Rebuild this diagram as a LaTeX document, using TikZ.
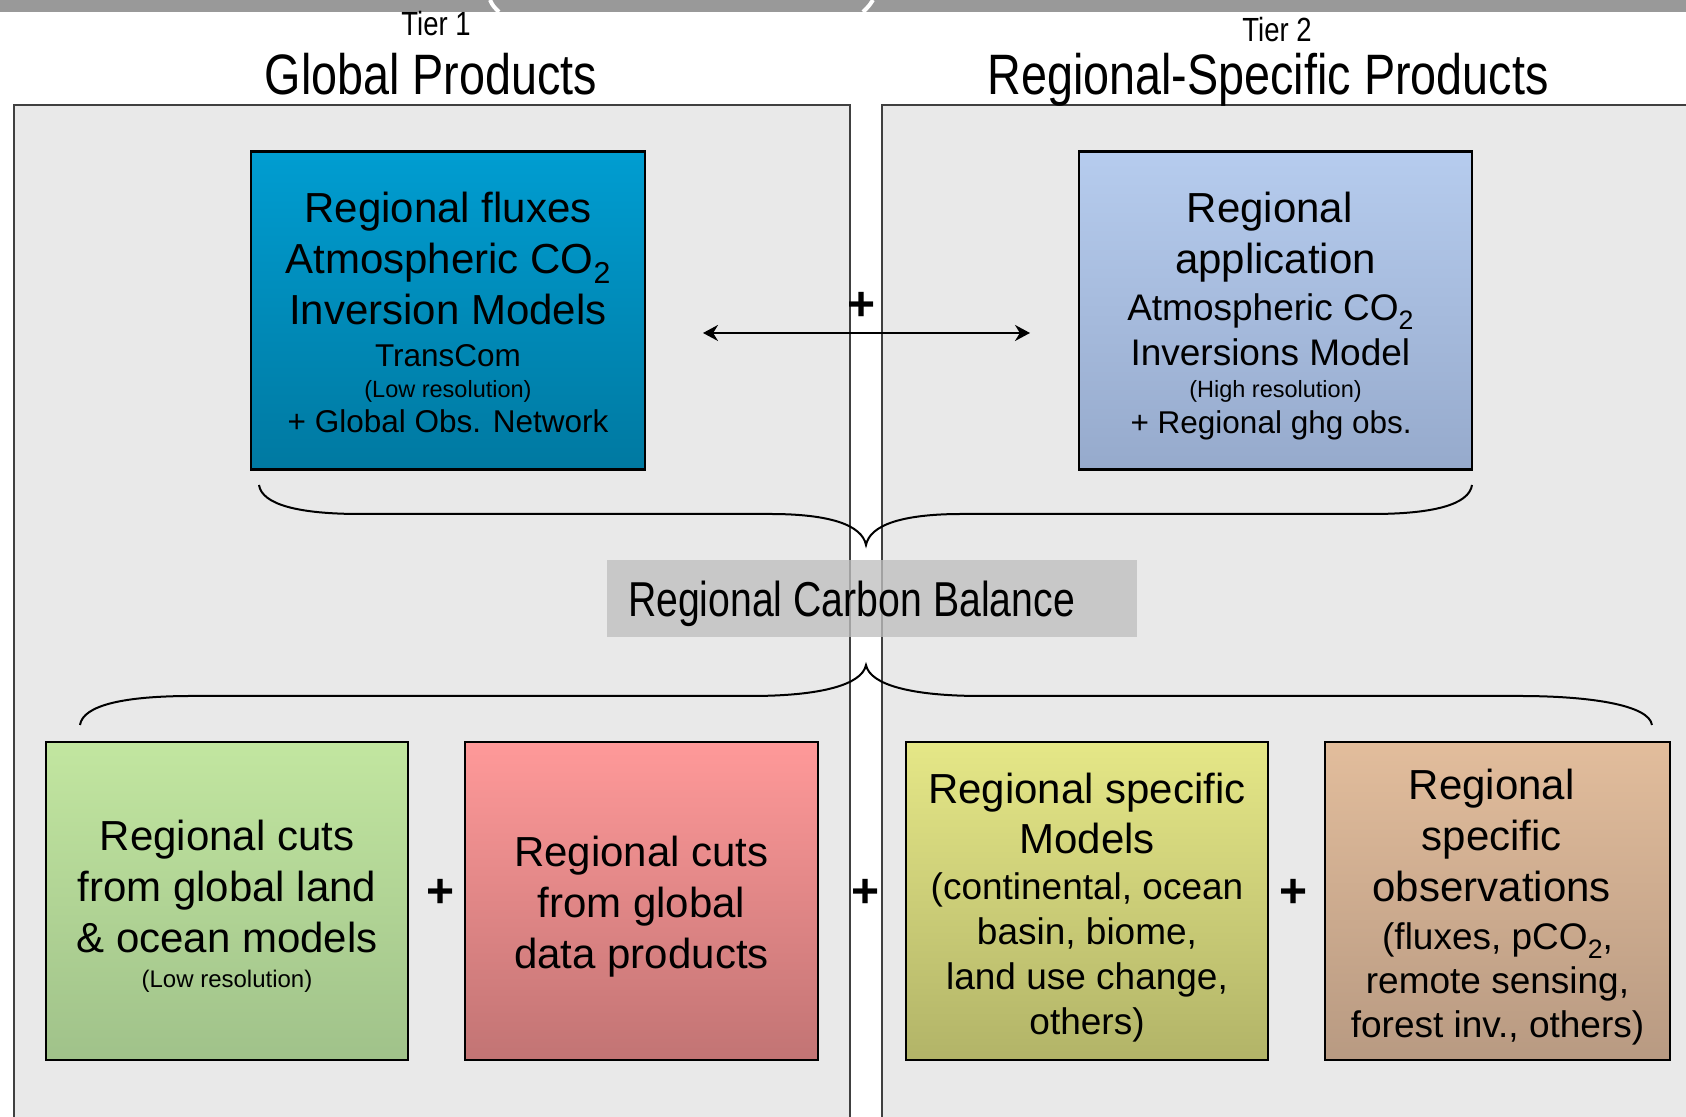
\documentclass[tikz,border=0pt]{standalone}
\usepackage{fontspec}
\setmainfont{Liberation Sans}
\newfontfamily\narrowfont{Liberation Sans}[FakeStretch=0.82]
\newfontfamily\balancefont{Liberation Sans}[FakeStretch=0.8]
\usetikzlibrary{arrows.meta}

\definecolor{panelgray}{RGB}{233,233,233}
\definecolor{bargray}{RGB}{153,153,153}
\definecolor{bluetop}{RGB}{0,157,209}
\definecolor{bluebot}{RGB}{0,121,161}
\definecolor{skytop}{RGB}{182,204,238}
\definecolor{skybot}{RGB}{150,170,204}
\definecolor{greentop}{RGB}{194,230,160}
\definecolor{greenbot}{RGB}{160,194,138}
\definecolor{redtop}{RGB}{255,153,153}
\definecolor{redbot}{RGB}{194,116,116}
\definecolor{yellowtop}{RGB}{229,231,135}
\definecolor{yellowbot}{RGB}{178,180,104}
\definecolor{tantop}{RGB}{226,189,156}
\definecolor{tanbot}{RGB}{184,154,130}

\newcommand{\bigtext}{\fontsize{21}{25.5}\selectfont}
\newcommand{\midtext}{\fontsize{18.5}{22}\selectfont}
\newcommand{\smalltext}{\fontsize{15.75}{19}\selectfont}
\newcommand{\tinytext}{\fontsize{11.75}{14}\selectfont}
% lowered two for CO2, and the trailing blank some lines carry
\newcommand{\subtwo}{\raisebox{-0.24em}{\scalebox{0.72}{2}}}
\newcommand{\trail}{\kern0.278em}

\begin{document}
\begin{tikzpicture}[x=0.5pt, y=0.5pt,
  prodbox/.style={draw=black, line width=1.3pt, minimum height=159pt, inner sep=0pt},
  boxtext/.style={align=center, inner sep=0pt},
  panelbox/.style={fill=panelgray, draw=black!75, line width=1pt},
  bracepath/.style={line width=1pt},
  plussign/.style={font=\bfseries\fontsize{24}{24}\selectfont, inner sep=0pt},
  tier/.style={anchor=base, font=\narrowfont\fontsize{16.75}{20}\selectfont},
  heading/.style={anchor=base, font=\narrowfont\fontsize{28.5}{34}\selectfont}]

\useasboundingbox (0,0) rectangle (1686,1117);
\fill[white] (0,0) rectangle (1686,1117);

% bar along the top
\fill[bargray] (0,1105) rectangle (1686,1117);
\draw[white, line width=2pt] (490,1117) .. controls (493,1111) .. (499,1105);
\draw[white, line width=2pt] (873,1117) .. controls (869,1111) .. (863,1105);

\draw[panelbox] (14,-5) rectangle (850,1012);
\draw[panelbox] (882,-5) rectangle (1695,1012);

\node[tier] (tier1) at (436,1081) {Tier 1};
\node[heading] (global) at (431,1022) {Global Products};
\node[tier] (tier2) at (1277,1075) {Tier 2};
\node[heading] (regional) at (1268,1022) {Regional-Specific Products};

% inversion models
\node[prodbox, minimum width=197pt, top color=bluetop, bottom color=bluebot] (inversion) at (448,806.5) {};
\node[boxtext, font=\bigtext] (inversiontext) at ([yshift=-1pt]inversion.center)
  {Regional fluxes\\ Atmospheric CO\subtwo\\ Inversion Models\\[-4.5pt]
   {\smalltext TransCom}\\[-10pt] {\tinytext (Low resolution)}\\[-8pt] {\smalltext + Global Obs. Network}};
\node[prodbox, minimum width=196.5pt, top color=skytop, bottom color=skybot] (application) at (1275.5,806.5) {};
\node[boxtext, font=\bigtext] (applicationtext) at ([yshift=-3pt]application.center)
  {Regional\trail\\ application\\[-2pt] {\midtext Atmospheric CO\subtwo\trail}\\[-3pt]
   {\midtext Inversions Model\trail}\\[-9.5pt] {\tinytext (High resolution)}\\[-7.5pt] {\smalltext + Regional ghg obs.\trail}};

\coordinate (arrowL) at (703,784);
\coordinate (arrowR) at (1030,784);
\draw[{Stealth[length=7.5pt,width=8pt]}-{Stealth[length=7.5pt,width=8pt]}, line width=1pt] (arrowL) -- (arrowR);
\node[plussign] (plustop) at (862,811) {+};

\draw[bracepath] (259,632) .. controls (262,612) and (300,603) .. (360,603) -- (770,603)
  .. controls (830,603) and (862,592) .. (866,572) .. controls (870,592) and (902,603) .. (962,603)
  -- (1372,603) .. controls (1432,603) and (1469,612) .. (1472,632);
\draw[bracepath] (80,392) .. controls (83,412) and (125,421) .. (192,421) -- (751,421)
  .. controls (820,421) and (862,432) .. (866,452) .. controls (870,432) and (912,421) .. (981,421)
  -- (1519,421) .. controls (1590,421) and (1649,412) .. (1652,392);

\node[fill=black!25, fill opacity=0.77, text opacity=1, minimum height=38.5pt, text width=244pt,
  text height=18.5pt, text depth=0pt, inner xsep=10.5pt, inner ysep=0pt, align=left,
  font=\balancefont\fontsize{24.5}{29}\selectfont] (balance) at (872,518.5)
  {Regional\hspace{5.5pt}Carbon\hspace{5.5pt}Balance};

% regional building blocks
\node[prodbox, minimum width=181pt, top color=greentop, bottom color=greenbot] (landocean) at (227,216) {};
\node[boxtext, font=\bigtext] (landoceantext) at ([yshift=-2.7pt]landocean.center)
  {Regional cuts\\ from global land\\ \& ocean models\\[-8pt] {\fontsize{12}{14}\selectfont (Low resolution)}};
\node[prodbox, minimum width=176.5pt, top color=redtop, bottom color=redbot] (dataprod) at (641.5,216) {};
\node[boxtext, font=\bigtext] (dataprodtext) at ([yshift=-3pt]dataprod.center)
  {Regional cuts\\ from global\\ data products};
\node[prodbox, minimum width=181pt, top color=yellowtop, bottom color=yellowbot] (models) at (1087,216) {};
\node[boxtext, font=\fontsize{21}{25}\selectfont] (modelstext) at ([yshift=-3.2pt]models.center)
  {Regional specific\\ Models\\[-2pt] {\midtext (continental, ocean}\\[-2.5pt] {\midtext basin, biome,}\\[-2.5pt]
   {\midtext land use change,}\\[-2.5pt] {\midtext others)}};
\node[prodbox, minimum width=172.5pt, top color=tantop, bottom color=tanbot] (observations) at (1497.5,216) {};
\node[boxtext, font=\fontsize{21}{25}\selectfont] (observationstext) at ([yshift=-3pt]observations.center)
  {Regional\trail\\[0.5pt] specific\trail\\[0.5pt] observations\trail\\[-1pt] {\midtext (fluxes, pCO\subtwo,}\\[-3pt]
   {\midtext remote sensing,}\\[-3pt] {\midtext forest inv., others)}};

\node[plussign] (plusA) at (441,224) {+};
\node[plussign] (plusB) at (866,224) {+};
\node[plussign] (plusC) at (1293,224) {+};
\end{tikzpicture}
\end{document}
